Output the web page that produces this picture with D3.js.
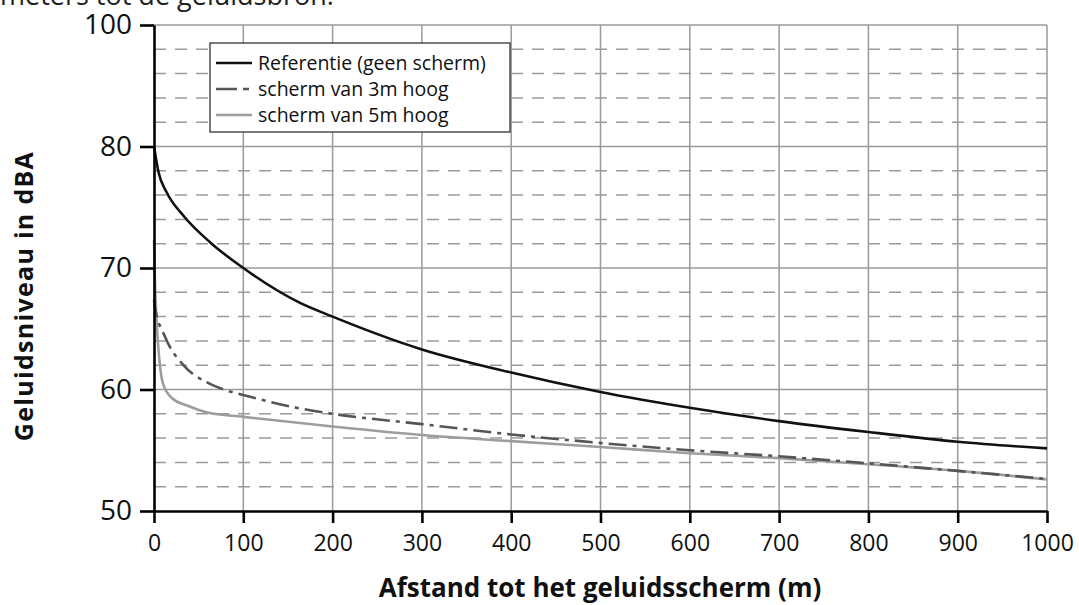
<!DOCTYPE html>
<html><head><meta charset="utf-8">
<script src="https://cdn.jsdelivr.net/npm/d3@7"></script>
<style>
html,body{margin:0;padding:0;background:#fff;}
svg{display:block;}
text{font-family:"Open Sans","DejaVu Sans",sans-serif;}
</style></head>
<body>
<svg id="chart" width="1079" height="605"></svg>
<script>
// ---- data ----
const xTicks = [0,100,200,300,400,500,600,700,800,900,1000];
const yTickValues = [50,60,70,80,90];
const yTickLabels = ["50","60","70","80","100"];
const yMinor = [52,54,56,58,62,64,66,68,72,74,76,78,82,84,86,88];

const seriesNames = ["Referentie (geen scherm)","scherm van 3m hoog","scherm van 5m hoog"];
const refX = [0,5,14,33,63,100,163,200,300,400,500,600,700,800,900,1000];
const refY = [80,77.9,76.25,74.3,72.1,70.0,67.15,66.0,63.3,61.4,59.8,58.5,57.4,56.5,55.7,55.15];
const s3X = [0,1,12,33,59,78,100,163,200,300,400,500,600,700,800,900,1000];
const s3Y = [67.4,66.8,64.4,62.0,60.6,60.0,59.55,58.45,58.0,57.15,56.3,55.6,55.0,54.5,53.92,53.3,52.63];
const s5X = [0,1,3,5,10,20,40,60,100,200,300,400,500,600,700,800,900,1000];
const s5Y = [72.3,69.0,65.5,63.3,60.5,59.3,58.6,58.1,57.75,56.95,56.25,55.75,55.27,54.75,54.35,53.85,53.3,52.6];

const topText = "meters tot de geluidsbron.";
const xTitle = "Afstand tot het geluidsscherm (m)";
const yTitle = "Geluidsniveau in dBA";

// ---- drawing ----
const svg = d3.select("#chart");
const x = d3.scaleLinear().domain([0,1000]).range([154,1047]);
const y = d3.scaleLinear().domain([50,90]).range([511,25]);

// clipped title text at top (as in the reference)
svg.append("text").attr("x",0).attr("y",5)
  .attr("font-size",27).attr("fill","#222").text(topText);

const grid = svg.append("g");
grid.selectAll("line.minor").data(yMinor).join("line")
  .attr("x1",x(0)).attr("x2",x(1000))
  .attr("y1",d=>y(d)).attr("y2",d=>y(d))
  .attr("stroke","#9a9a9a").attr("stroke-width",1.5)
  .attr("stroke-dasharray","12,9");
grid.selectAll("line.hmaj").data(yTickValues.filter(v=>v>50)).join("line")
  .attr("x1",x(0)).attr("x2",x(1000))
  .attr("y1",d=>y(d)).attr("y2",d=>y(d))
  .attr("stroke","#9a9a9a").attr("stroke-width",1.5);
grid.selectAll("line.vmaj").data(xTicks.filter(v=>v>0)).join("line")
  .attr("x1",d=>x(d)).attr("x2",d=>x(d))
  .attr("y1",y(50)).attr("y2",y(90))
  .attr("stroke","#9a9a9a").attr("stroke-width",1.5);

// curves
const line = d3.line().x(d=>x(d[0])).y(d=>y(d[1])).curve(d3.curveMonotoneX);
const zip = (a,b)=>a.map((v,i)=>[v,b[i]]);
svg.append("path").datum(zip(s5X,s5Y)).attr("d",line)
  .attr("fill","none").attr("stroke","#9d9d9d").attr("stroke-width",2.6);
svg.append("path").datum(zip(s3X,s3Y)).attr("d",line)
  .attr("fill","none").attr("stroke","#555").attr("stroke-width",2.6)
  .attr("stroke-dasharray","18,6,4,6");
svg.append("path").datum(zip(refX,refY)).attr("d",line)
  .attr("fill","none").attr("stroke","#111").attr("stroke-width",2.6);

// axes
const xAxis = d3.axisBottom(x).tickValues(xTicks).tickFormat(d3.format("d"))
  .tickSize(12).tickSizeOuter(0).tickPadding(12);
const gx = svg.append("g").attr("transform",`translate(0,${y(50)})`).call(xAxis);
gx.select(".domain").attr("stroke","#000").attr("stroke-width",2.6);
gx.selectAll(".tick line").attr("stroke","#000").attr("stroke-width",2.6);
gx.selectAll(".tick text").attr("font-size",23).attr("fill","#111")
  .attr("font-family","'Open Sans',sans-serif");

const yAxis = d3.axisLeft(y).tickValues(yTickValues).tickFormat((d,i)=>yTickLabels[i])
  .tickSize(14).tickSizeOuter(0).tickPadding(8);
const gy = svg.append("g").attr("transform",`translate(${x(0)},0)`).call(yAxis);
gy.select(".domain").attr("stroke","#000").attr("stroke-width",2.6);
gy.selectAll(".tick line").attr("stroke","#000").attr("stroke-width",2.6);
gy.selectAll(".tick text").attr("font-size",28).attr("fill","#111")
  .attr("font-family","'Open Sans',sans-serif");

// axis titles
svg.append("text").attr("x",600).attr("y",597).attr("text-anchor","middle")
  .attr("font-size",26).attr("font-weight","bold").attr("fill","#111").text(xTitle);
svg.append("text").attr("transform","translate(33,296) rotate(-90)")
  .attr("text-anchor","middle").attr("font-size",25).attr("font-weight","bold")
  .attr("letter-spacing",1.3).attr("fill","#111").text(yTitle);

// legend
const lg = svg.append("g");
lg.append("rect").attr("x",210).attr("y",43).attr("width",300).attr("height",89)
  .attr("fill","#fff").attr("stroke","#333").attr("stroke-width",1.3);
const styles = [
  {c:"#111",dash:null},
  {c:"#555",dash:"21,6,6,20"},
  {c:"#9d9d9d",dash:null}
];
const rows = [63,89,115];
seriesNames.forEach((n,i)=>{
  const l = lg.append("line").attr("x1",216).attr("x2",252)
    .attr("y1",rows[i]).attr("y2",rows[i])
    .attr("stroke",styles[i].c).attr("stroke-width",2.6);
  if(styles[i].dash) l.attr("stroke-dasharray",styles[i].dash);
  lg.append("text").attr("x",258).attr("y",rows[i]).attr("dy","0.35em")
    .attr("font-size",19.5).attr("fill","#111").text(n);
});
</script>
</body></html>
